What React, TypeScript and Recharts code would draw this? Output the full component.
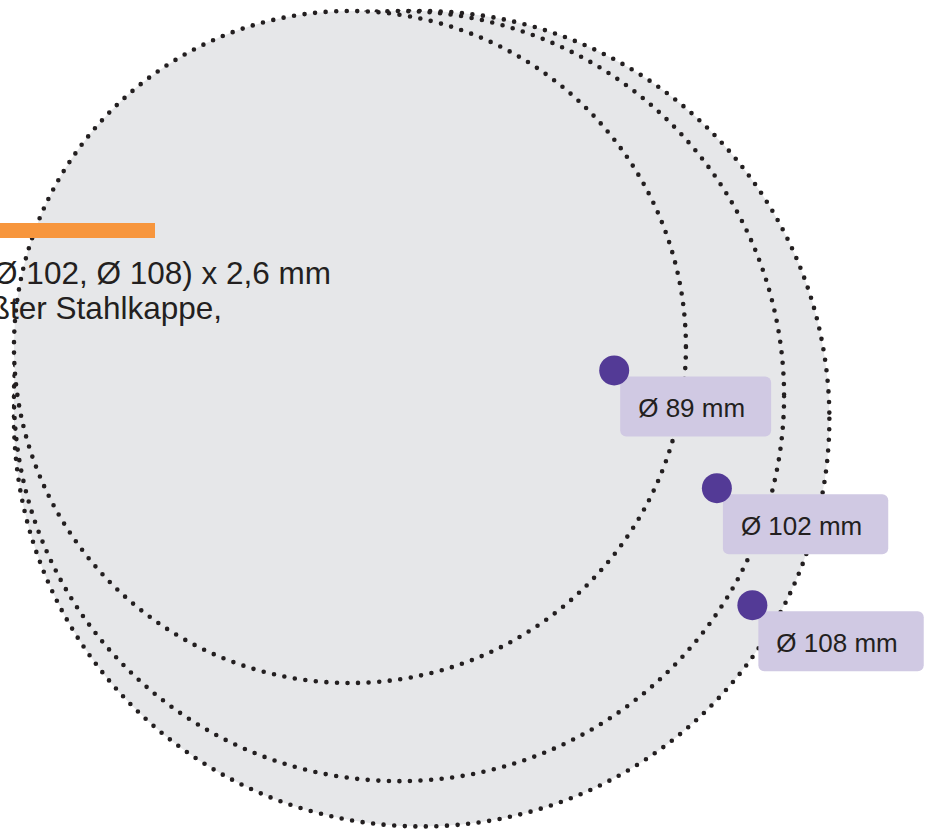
import React from "react";
import { ScatterChart, Scatter, XAxis, YAxis } from "recharts";

// Rohrdurchmesser in mm; Kreise liegen oben/links an derselben Kante an.
// Groesster zuerst, damit die Flaeche der kleineren die verdeckten Punkte ueberdeckt.
const DIAMETERS = [108, 102, 89];
const LABELS = ["Ø 89 mm", "Ø 102 mm", "Ø 108 mm"];
// Ankerpunkte der Beschriftungen (mm, gleiche Achsen wie die Kreise)
const LABEL_X = [79.5, 93.1, 97.8];
const LABEL_Y = [47.6, 63.2, 78.7];
const TEXT_LINES = ["Ø 102, Ø 108) x 2,6 mm", "ßter Stahlkappe,"];

const W = 927;
const H = 834;
const X_DOMAIN: [number, number] = [-1.85, 120.93];
const Y_DOMAIN: [number, number] = [-1.46, 109.0];
const PX_PER_MM = W / (X_DOMAIN[1] - X_DOMAIN[0]);

const INK = "#231F20";
const FONT = "'Liberation Sans', Arial, sans-serif";

const circles = DIAMETERS.map((d) => ({ x: d / 2, y: d / 2, d }));
const labels = LABELS.map((text, i) => ({ x: LABEL_X[i], y: LABEL_Y[i], text }));

let ctx: CanvasRenderingContext2D | null = null;
const measure = (s: string) => {
  if (!ctx) ctx = document.createElement("canvas").getContext("2d");
  if (!ctx) return s.length * 15;
  ctx.font = `26px ${FONT}`;
  return ctx.measureText(s).width;
};

// Flaeche + gepunkteter Rand pro Kreis
// eslint-disable-next-line @typescript-eslint/no-explicit-any
const CircleShape = (p: any) => {
  const r = (p.payload.d / 2) * PX_PER_MM;
  return (
    <g>
      <circle cx={p.cx} cy={p.cy} r={r} fill="#E6E7E9" />
      <circle
        cx={p.cx}
        cy={p.cy}
        r={r}
        fill="none"
        stroke={INK}
        strokeWidth={4.6}
        strokeLinecap="round"
        strokeDasharray="0 10.6"
      />
    </g>
  );
};

// eslint-disable-next-line @typescript-eslint/no-explicit-any
const LabelShape = (p: any) => {
  const bx = p.cx + 6;
  const by = p.cy + 6;
  const bw = measure(p.payload.text) + 44;
  return (
    <g>
      <rect x={bx} y={by} width={bw} height={60} rx={6} fill="#D0C9E3" />
      <circle cx={p.cx} cy={p.cy} r={15} fill="#533A96" />
      <text x={bx + 18} y={by + 41} fontSize={26} fontFamily={FONT} fill={INK}>
        {p.payload.text}
      </text>
    </g>
  );
};

export default function App() {
  return (
    <div style={{ position: "absolute", left: 0, top: 0, width: W, height: H, background: "#fff", overflow: "hidden" }}>
      <ScatterChart width={W} height={H} margin={{ top: 0, right: 0, bottom: 0, left: 0 }}>
        <XAxis type="number" dataKey="x" domain={X_DOMAIN} allowDataOverflow hide />
        <YAxis type="number" dataKey="y" domain={Y_DOMAIN} allowDataOverflow reversed hide />
        <Scatter data={circles} shape={CircleShape} isAnimationActive={false} />
        <Scatter data={labels} shape={LabelShape} isAnimationActive={false} />
      </ScatterChart>
      {/* angeschnittener Einleitungstext links */}
      <svg width={W} height={H} style={{ position: "absolute", left: 0, top: 0, pointerEvents: "none" }}>
        <rect x={-20} y={223} width={175} height={15} fill="#F7963D" />
        <text x={331} y={284} textAnchor="end" fontSize={31.5} fontFamily={FONT} fill={INK}>
          {TEXT_LINES[0]}
        </text>
        <text x={222} y={319} textAnchor="end" fontSize={31.5} fontFamily={FONT} fill={INK}>
          {TEXT_LINES[1]}
        </text>
      </svg>
    </div>
  );
}
